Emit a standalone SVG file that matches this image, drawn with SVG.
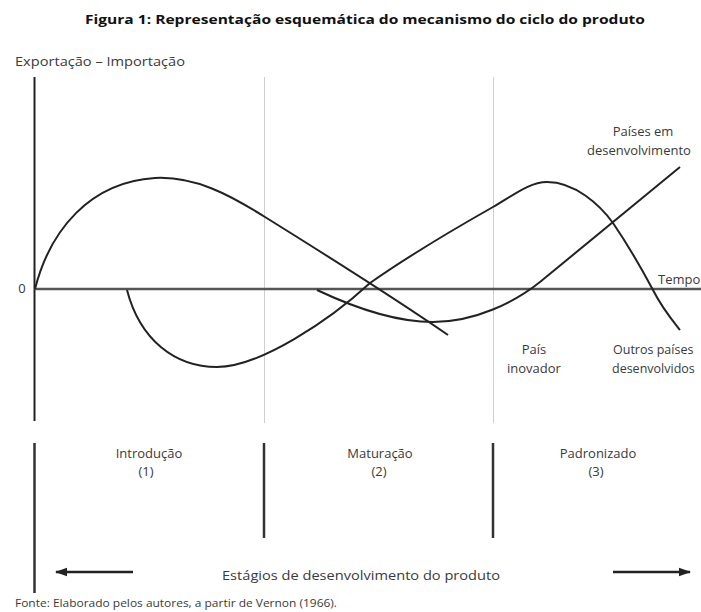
<svg xmlns="http://www.w3.org/2000/svg" width="701" height="612" viewBox="0 0 701 612">
<defs>
<style>
.t{font-family:"Open Sans","Liberation Sans",sans-serif;font-size:13px;fill:#3a3a3a}
.ttl{font-family:"Open Sans","Liberation Sans",sans-serif;font-size:13px;font-weight:bold;fill:#111}
.sm{font-family:"Open Sans","Liberation Sans",sans-serif;font-size:10px;fill:#3a3a3a}
.axis{stroke:#222;stroke-width:2;fill:none}
.zero{stroke:#555;stroke-width:2.5;fill:none}
.grid{stroke:#cfcfcf;stroke-width:1;fill:none}
.curve{stroke:#222;stroke-width:2;fill:none}
.sep{stroke:#333;stroke-width:2.5;fill:none}
.arr{stroke:#222;stroke-width:2.5;fill:none}
</style>
<marker id="ah" viewBox="0 0 10 10" refX="9" refY="5" markerWidth="5" markerHeight="5" orient="auto-start-reverse" markerUnits="strokeWidth">
<path d="M0,1.5 L10,5 L0,8.5 z" fill="#222"/>
</marker>
</defs>
<rect width="701" height="612" fill="#fff"/>
<text class="ttl" x="365" y="24" text-anchor="middle" textLength="560" lengthAdjust="spacingAndGlyphs">Figura 1: Representação esquemática do mecanismo do ciclo do produto</text>
<g id="axes">
<text class="t" x="15" y="66" textLength="170" lengthAdjust="spacingAndGlyphs">Exportação – Importação</text>
<line class="grid" x1="264.5" y1="77" x2="264.5" y2="423"/>
<line class="grid" x1="493.5" y1="77" x2="493.5" y2="423"/>
<line class="axis" x1="34.5" y1="77" x2="34.5" y2="421"/>
<line class="zero" x1="34.5" y1="289" x2="701" y2="289"/>
<text class="t" x="22" y="293" text-anchor="middle">0</text>
<text class="t" x="658" y="284">Tempo</text>
</g>
<g id="connectors">
<path id="c-inovador" class="curve" d="M35,289 C50,230 90,182 155,178 C195,176 230,195 265,217 C310,245 390,295 448,335"/>
<path id="c-outros" class="curve" d="M127,290 C140,340 175,367 217,367 C260,367 330,320 370,283 C410,255 470,220 493,207 C515,194 530,182 547,182 C575,182 600,205 613,223 C630,248 645,275 653,290 C662,308 672,320 680,330"/>
<path id="c-desenv" class="curve" d="M317,290 C355,308 395,322 433,322 C475,322 515,302 540,282 L680,167"/>
</g>
<g id="label-desenvolvimento">
<text class="t" x="643" y="136" text-anchor="middle">Países em</text>
<text class="t" x="587" y="155">desenvolvimento</text>
</g>
<g id="label-inovador">
<text class="t" x="534" y="354" text-anchor="middle">País</text>
<text class="t" x="534" y="373" text-anchor="middle">inovador</text>
</g>
<g id="label-outros">
<text class="t" x="613" y="354" style="font-size:12.5px">Outros países</text>
<text class="t" x="612" y="373" style="font-size:12.5px">desenvolvidos</text>
</g>
<g id="stages">
<line class="sep" x1="34.5" y1="443" x2="34.5" y2="593"/>
<line class="sep" x1="264" y1="443" x2="264" y2="538"/>
<line class="sep" x1="493" y1="443" x2="493" y2="538"/>
<g id="stage1">
<text class="t" x="149" y="458" text-anchor="middle">Introdução</text>
<text class="t" x="146" y="476" text-anchor="middle">(1)</text>
</g>
<g id="stage2">
<text class="t" x="380" y="458" text-anchor="middle">Maturação</text>
<text class="t" x="379" y="476" text-anchor="middle">(2)</text>
</g>
<g id="stage3">
<text class="t" x="598" y="458" text-anchor="middle">Padronizado</text>
<text class="t" x="596" y="476" text-anchor="middle">(3)</text>
</g>
<line class="arr" x1="133" y1="572" x2="56" y2="572" marker-end="url(#ah)"/>
<line class="arr" x1="613" y1="572" x2="690" y2="572" marker-end="url(#ah)"/>
<text class="t" x="361" y="580" text-anchor="middle" textLength="278" lengthAdjust="spacingAndGlyphs">Estágios de desenvolvimento do produto</text>
</g>
<text class="sm" x="15" y="607" textLength="322" lengthAdjust="spacingAndGlyphs">Fonte: Elaborado pelos autores, a partir de Vernon (1966).</text>
</svg>
